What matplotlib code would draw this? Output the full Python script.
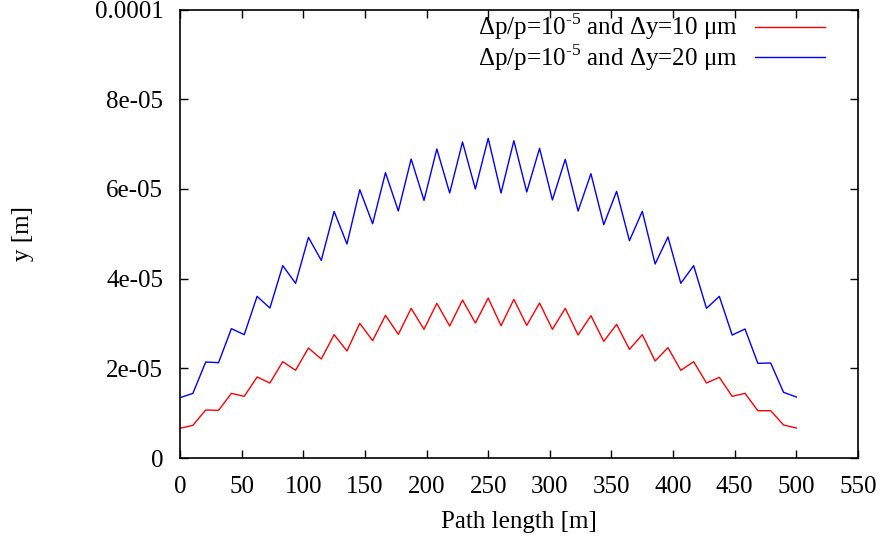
import matplotlib
matplotlib.use("Agg")
import matplotlib.pyplot as plt
from matplotlib.ticker import FixedLocator

plt.rcParams['font.family'] = ['Liberation Serif', 'DejaVu Serif']
plt.rcParams['mathtext.fontset'] = 'custom'
plt.rcParams['mathtext.rm'] = 'Liberation Serif'

# path length positions of the sampled points [m]
path_len = [0.0, 10.42, 20.83, 31.25, 41.67, 52.08, 62.5, 72.92, 83.33, 93.75,
            104.17, 114.58, 125.0, 135.42, 145.83, 156.25, 166.67, 177.08, 187.5, 197.92,
            208.33, 218.75, 229.17, 239.58, 250.0, 260.42, 270.83, 281.25, 291.67, 302.08,
            312.5, 322.92, 333.33, 343.75, 354.17, 364.58, 375.0, 385.42, 395.83, 406.25,
            416.67, 427.08, 437.5, 447.92, 458.33, 468.75, 479.17, 489.58, 500.0]

# dp/p=1e-5, dy=10 um  (units of 1e-5 m)
y_10um = [0.662, 0.729, 1.070, 1.063, 1.442, 1.375, 1.806, 1.672, 2.148, 1.955,
          2.453, 2.207, 2.750, 2.386, 3.003, 2.616, 3.181, 2.757, 3.337, 2.869,
          3.449, 2.943, 3.523, 3.010, 3.567, 2.950, 3.537, 2.957, 3.455, 2.869,
          3.337, 2.742, 3.173, 2.601, 2.980, 2.423, 2.750, 2.163, 2.460, 1.955,
          2.148, 1.672, 1.799, 1.375, 1.442, 1.055, 1.055, 0.736, 0.669]

# dp/p=1e-5, dy=20 um  (units of 1e-5 m)
y_20um = [1.345, 1.442, 2.140, 2.126, 2.884, 2.750, 3.604, 3.344, 4.289, 3.895,
          4.920, 4.407, 5.500, 4.771, 5.983, 5.224, 6.362, 5.507, 6.667, 5.745,
          6.890, 5.909, 7.046, 5.998, 7.128, 5.909, 7.075, 5.931, 6.905, 5.753,
          6.660, 5.507, 6.339, 5.202, 5.946, 4.845, 5.500, 4.326, 4.928, 3.895,
          4.289, 3.337, 3.604, 2.742, 2.876, 2.111, 2.118, 1.465, 1.360]

x_ticks = [0, 50, 100, 150, 200, 250, 300, 350, 400, 450, 500, 550]
y_ticks = [0, 2e-5, 4e-5, 6e-5, 8e-5, 1e-4]
y_tick_labels = ["0", "2e-05", "4e-05", "6e-05", "8e-05", "0.0001"]

fs = 18

fig = plt.figure(figsize=(8.86, 5.47), dpi=100)
ax = fig.add_axes([0.2032, 0.1627, 0.9684 - 0.2032, 0.9826 - 0.1627])

ax.plot(path_len, [v * 1e-5 for v in y_10um], color='#ff0000', lw=1.0,
        label=r'$\Delta$p/p=10$^{\text{-5}}$ and $\Delta$y=10 $\mathrm{\mu}$m')
ax.plot(path_len, [v * 1e-5 for v in y_20um], color='#0000ff', lw=1.0,
        label=r'$\Delta$p/p=10$^{\text{-5}}$ and $\Delta$y=20 $\mathrm{\mu}$m')

ax.set_xlim(0, 550)
ax.set_ylim(0, 1e-4)
ax.xaxis.set_major_locator(FixedLocator(x_ticks))
ax.set_yticks(y_ticks)
ax.set_yticklabels(y_tick_labels)
ax.tick_params(direction='in', length=6, width=1, top=True, right=True,
               labelsize=fs)
ax.tick_params(axis='x', pad=13)
ax.tick_params(axis='y', pad=12)
for s in ax.spines.values():
    s.set_linewidth(1.2)

ax.set_xlabel("Path length [m]", fontsize=fs, labelpad=9)
ax.set_ylabel("y [m]", fontsize=fs, labelpad=44)

leg = ax.legend(loc='upper right', frameon=False, fontsize=fs,
                markerfirst=False, handlelength=2.8, handletextpad=0.7,
                labelspacing=-0.02, borderaxespad=0.0, borderpad=0.0,
                bbox_to_anchor=(0.951, 0.995))
for t in leg.get_texts():
    t.set_ha('right')

fig.savefig("out.png", dpi=100)
